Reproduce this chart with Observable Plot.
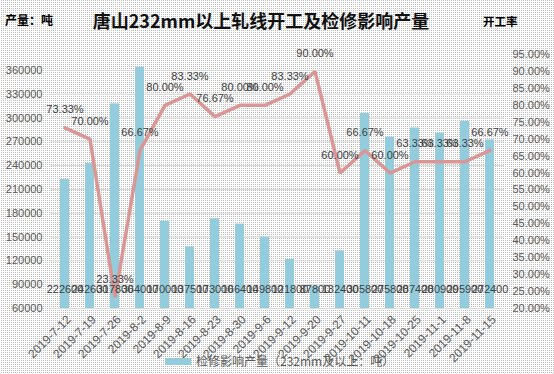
<!DOCTYPE html>
<html><head><meta charset="utf-8">
<script src="https://cdn.jsdelivr.net/npm/d3@7"></script>
<script src="https://cdn.jsdelivr.net/npm/@observablehq/plot@0.6"></script>
<style>
html,body{margin:0;padding:0;background:#fff;}
body{width:554px;height:374px;overflow:hidden;}
#wrap{position:relative;width:554px;height:374px;background:repeating-conic-gradient(#bdbdbd 0 25%,#fff 0 100%) 0 0/2px 2px;font-family:"Liberation Sans",Arial,sans-serif;}
#chart{position:absolute;left:0;top:0;}
.t{position:absolute;white-space:nowrap;line-height:1;font-family:"Noto Sans CJK SC","Liberation Sans",sans-serif;color:#000;}
#title{left:0;width:522px;text-align:center;top:11px;font-size:18px;font-weight:bold;color:#111;}
#unitL{left:5px;top:14px;font-size:12px;font-weight:bold;}
#unitR{left:483px;top:16px;font-size:11.5px;font-weight:bold;}
#legend{left:165px;top:355px;font-size:12px;color:#595959;display:flex;align-items:center;}
#legend .sw{display:inline-block;width:26px;height:7px;background:#93cddd;margin-right:5px;}
</style></head><body><div id="wrap">
<div id="chart"></div>
<div class="t" id="title">唐山232mm以上轧线开工及检修影响产量</div>
<div class="t" id="unitL">产量：吨</div>
<div class="t" id="unitR">开工率</div>
<div class="t" id="legend"><span class="sw"></span><span>检修影响产量（232mm及以上：吨）</span></div>
</div>
<script>
const dates = ["2019-7-12","2019-7-19","2019-7-26","2019-8-2","2019-8-9","2019-8-16","2019-8-23","2019-8-30","2019-9-6","2019-9-12","2019-9-20","2019-9-27","2019-10-11","2019-10-18","2019-10-25","2019-11-1","2019-11-8","2019-11-15"];
const output = [222600,242600,317800,364000,170000,137500,173000,166400,149800,121800,87800,132400,305800,275800,287400,280900,295900,272400];
const rates = [0.7333,0.70,0.2333,0.6667,0.80,0.8333,0.7667,0.80,0.80,0.8333,0.90,0.60,0.6667,0.60,0.6333,0.6333,0.6333,0.6667];
const outputTicks = [60000,90000,120000,150000,180000,210000,240000,270000,300000,330000,360000];
const rateTicks = [0.20,0.25,0.30,0.35,0.40,0.45,0.50,0.55,0.60,0.65,0.70,0.75,0.80,0.85,0.90,0.95];

const rateToY = d3.scaleLinear([0.20,0.95],[60000,380000]);
const pct = r => (r*100).toFixed(2) + "%";
const data = dates.map((d,i) => ({date:d, output:output[i], rate:rates[i]}));

const chart = Plot.plot({
  width:554, height:374,
  marginLeft:50, marginRight:50, marginTop:54, marginBottom:66,
  style:{background:"transparent", fontFamily:"Liberation Sans, Arial, sans-serif", fontSize:"11px", color:"#595959", overflow:"visible"},
  x:{domain:dates, paddingInner:0.66, paddingOuter:0.33, label:null},
  y:{domain:[60000,380000], label:null},
  marks:[
    Plot.gridY(outputTicks, {stroke:"#d9d9d9", strokeOpacity:1, strokeWidth:1}),
    Plot.barY(data, {x:"date", y:"output", fill:"#93cddd", clip:true}),
    Plot.line(data, {x:"date", y:d => rateToY(d.rate), stroke:"#d99694", strokeWidth:3.5, strokeLinejoin:"miter"}),
    Plot.text(data, {x:"date", frameAnchor:"bottom", dy:-16, text:d => String(d.output), fill:"#404040", fontSize:11}),
    Plot.text(data, {x:"date", y:d => rateToY(d.rate), dy:-18, text:d => pct(d.rate), fill:"#404040", fontSize:11}),
    Plot.axisY(outputTicks, {anchor:"left", tickSize:0, tickPadding:8, tickFormat:d => String(d), label:null, fill:"#595959"}),
    Plot.axisY(rateTicks.map(rateToY), {anchor:"right", tickSize:0, tickPadding:8, tickFormat:d => pct(rateToY.invert(d)), label:null, fill:"#595959"}),
    Plot.axisX({tickSize:0, tickPadding:9, tickRotate:-45, label:null, fill:"#595959", fontSize:12, dx:4})
  ]
});
document.getElementById("chart").appendChild(chart);
</script>
</body></html>
